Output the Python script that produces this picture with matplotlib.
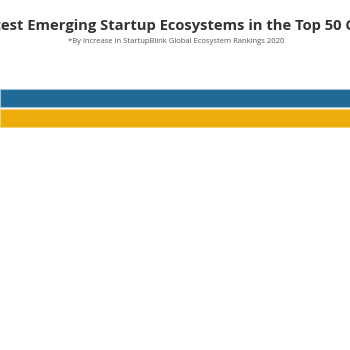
import matplotlib.pyplot as plt

title = "Fastest Emerging Startup Ecosystems in the Top 50 Cities"
subtitle = "*By increase in StartupBlink Global Ecosystem Rankings 2020"
categories = ["2019", "2020"]
values = [100, 100]
colors = ["#1f6a96", "#ecac0a"]

fig = plt.figure(figsize=(3.5, 3.5), dpi=100)
fig.patch.set_facecolor("white")

# axes covering the bar band (pixel rows ~88 to ~128)
ax = fig.add_axes([0, 1 - 128 / 350, 1, 40 / 350])
ax.barh(categories, values, height=0.92, color=colors,
        edgecolor=["#9fc0d6", "#f5d27a"], linewidth=0.8)
ax.set_xlim(0, 60)
ax.set_ylim(1.5, -0.5)
ax.axis("off")

title_kw = dict(fontsize=10.6, fontweight="bold", color="#333333", family="Open Sans")
# the reference is cropped: start the title so that "Fast" falls off the left edge
probe = fig.text(0, 0, "Fast", **title_kw)
fig.canvas.draw()
w = probe.get_window_extent().width / fig.bbox.width
probe.remove()
fig.text(-w + 0.002, 1 - 30 / 350, title, ha="left", va="baseline", **title_kw)
fig.text(0.503, 1 - 43 / 350, subtitle, ha="center", va="baseline",
         fontsize=5.5, color="#555555", family="Open Sans")

plt.savefig("out.png", dpi=100, facecolor="white")
